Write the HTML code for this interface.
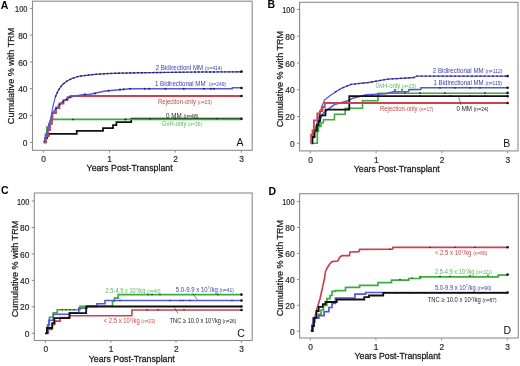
<!DOCTYPE html>
<html><head><meta charset="utf-8"><style>
html,body{margin:0;padding:0;background:#fff;width:520px;height:366px;overflow:hidden;font-family:"Liberation Sans", sans-serif;}
</style></head><body>
<svg width="520" height="366" viewBox="0 0 520 366" style="position:absolute;left:0;top:0;will-change:transform;filter:blur(0.35px)">
<rect width="520" height="366" fill="#fff"/>
<g font-family='"Liberation Sans", sans-serif'>
<rect x="32.5" y="1.2" width="219.7" height="149.1" fill="#fff" stroke="#8c8c8c" stroke-width="1.1"/>
<line x1="29.9" y1="142.3" x2="32.5" y2="142.3" stroke="#8c8c8c" stroke-width="1"/>
<text x="27.5" y="145.9" font-size="8.4" fill="#2a2a2a" text-anchor="end" font-weight="normal" stroke="#2a2a2a" stroke-width="0.2">0</text>
<line x1="29.9" y1="115.5" x2="32.5" y2="115.5" stroke="#8c8c8c" stroke-width="1"/>
<text x="27.5" y="119.1" font-size="8.4" fill="#2a2a2a" text-anchor="end" font-weight="normal" stroke="#2a2a2a" stroke-width="0.2">20</text>
<line x1="29.9" y1="88.7" x2="32.5" y2="88.7" stroke="#8c8c8c" stroke-width="1"/>
<text x="27.5" y="92.3" font-size="8.4" fill="#2a2a2a" text-anchor="end" font-weight="normal" stroke="#2a2a2a" stroke-width="0.2">40</text>
<line x1="29.9" y1="62.0" x2="32.5" y2="62.0" stroke="#8c8c8c" stroke-width="1"/>
<text x="27.5" y="65.6" font-size="8.4" fill="#2a2a2a" text-anchor="end" font-weight="normal" stroke="#2a2a2a" stroke-width="0.2">60</text>
<line x1="29.9" y1="35.2" x2="32.5" y2="35.2" stroke="#8c8c8c" stroke-width="1"/>
<text x="27.5" y="38.8" font-size="8.4" fill="#2a2a2a" text-anchor="end" font-weight="normal" stroke="#2a2a2a" stroke-width="0.2">80</text>
<line x1="29.9" y1="8.4" x2="32.5" y2="8.4" stroke="#8c8c8c" stroke-width="1"/>
<text x="27.5" y="12.0" font-size="8.4" fill="#2a2a2a" text-anchor="end" font-weight="normal" textLength="12.4" lengthAdjust="spacingAndGlyphs" stroke="#2a2a2a" stroke-width="0.2">100</text>
<line x1="43.4" y1="150.3" x2="43.4" y2="152.7" stroke="#8c8c8c" stroke-width="1"/>
<text x="43.7" y="161.9" font-size="8.4" fill="#2a2a2a" text-anchor="middle" font-weight="normal" stroke="#2a2a2a" stroke-width="0.2">0</text>
<line x1="109.4" y1="150.3" x2="109.4" y2="152.7" stroke="#8c8c8c" stroke-width="1"/>
<text x="109.7" y="161.9" font-size="8.4" fill="#2a2a2a" text-anchor="middle" font-weight="normal" stroke="#2a2a2a" stroke-width="0.2">1</text>
<line x1="175.3" y1="150.3" x2="175.3" y2="152.7" stroke="#8c8c8c" stroke-width="1"/>
<text x="175.6" y="161.9" font-size="8.4" fill="#2a2a2a" text-anchor="middle" font-weight="normal" stroke="#2a2a2a" stroke-width="0.2">2</text>
<line x1="241.3" y1="150.3" x2="241.3" y2="152.7" stroke="#8c8c8c" stroke-width="1"/>
<text x="241.6" y="161.9" font-size="8.4" fill="#2a2a2a" text-anchor="middle" font-weight="normal" stroke="#2a2a2a" stroke-width="0.2">3</text>
<text x="86.6" y="171.1" font-size="9.5" fill="#222" text-anchor="start" font-weight="normal" textLength="86.0" lengthAdjust="spacingAndGlyphs" stroke="#222" stroke-width="0.3">Years Post-Transplant</text>
<text x="0" y="0" font-size="9.6" fill="#222" stroke="#222" stroke-width="0.25" text-anchor="middle" textLength="96.5" lengthAdjust="spacingAndGlyphs" transform="translate(14.4,75.9) rotate(-90)">Cumulative % with TRM</text>
<text x="0.8" y="8.7" font-size="10.5" fill="#000" text-anchor="start" font-weight="bold" >A</text>
<text x="236.6" y="145.6" font-size="10.5" fill="#111" text-anchor="start" font-weight="normal" >A</text>
<rect x="299.6" y="2.3" width="218.4" height="148.6" fill="#fff" stroke="#8c8c8c" stroke-width="1.1"/>
<line x1="297.0" y1="143.3" x2="299.6" y2="143.3" stroke="#8c8c8c" stroke-width="1"/>
<text x="294.6" y="146.9" font-size="8.4" fill="#2a2a2a" text-anchor="end" font-weight="normal" stroke="#2a2a2a" stroke-width="0.2">0</text>
<line x1="297.0" y1="116.5" x2="299.6" y2="116.5" stroke="#8c8c8c" stroke-width="1"/>
<text x="294.6" y="120.1" font-size="8.4" fill="#2a2a2a" text-anchor="end" font-weight="normal" stroke="#2a2a2a" stroke-width="0.2">20</text>
<line x1="297.0" y1="89.7" x2="299.6" y2="89.7" stroke="#8c8c8c" stroke-width="1"/>
<text x="294.6" y="93.3" font-size="8.4" fill="#2a2a2a" text-anchor="end" font-weight="normal" stroke="#2a2a2a" stroke-width="0.2">40</text>
<line x1="297.0" y1="63.0" x2="299.6" y2="63.0" stroke="#8c8c8c" stroke-width="1"/>
<text x="294.6" y="66.6" font-size="8.4" fill="#2a2a2a" text-anchor="end" font-weight="normal" stroke="#2a2a2a" stroke-width="0.2">60</text>
<line x1="297.0" y1="36.2" x2="299.6" y2="36.2" stroke="#8c8c8c" stroke-width="1"/>
<text x="294.6" y="39.8" font-size="8.4" fill="#2a2a2a" text-anchor="end" font-weight="normal" stroke="#2a2a2a" stroke-width="0.2">80</text>
<line x1="297.0" y1="9.4" x2="299.6" y2="9.4" stroke="#8c8c8c" stroke-width="1"/>
<text x="294.6" y="13.0" font-size="8.4" fill="#2a2a2a" text-anchor="end" font-weight="normal" textLength="12.4" lengthAdjust="spacingAndGlyphs" stroke="#2a2a2a" stroke-width="0.2">100</text>
<line x1="310.3" y1="150.9" x2="310.3" y2="153.3" stroke="#8c8c8c" stroke-width="1"/>
<text x="310.6" y="162.7" font-size="8.4" fill="#2a2a2a" text-anchor="middle" font-weight="normal" stroke="#2a2a2a" stroke-width="0.2">0</text>
<line x1="376.1" y1="150.9" x2="376.1" y2="153.3" stroke="#8c8c8c" stroke-width="1"/>
<text x="376.4" y="162.7" font-size="8.4" fill="#2a2a2a" text-anchor="middle" font-weight="normal" stroke="#2a2a2a" stroke-width="0.2">1</text>
<line x1="441.8" y1="150.9" x2="441.8" y2="153.3" stroke="#8c8c8c" stroke-width="1"/>
<text x="442.1" y="162.7" font-size="8.4" fill="#2a2a2a" text-anchor="middle" font-weight="normal" stroke="#2a2a2a" stroke-width="0.2">2</text>
<line x1="507.6" y1="150.9" x2="507.6" y2="153.3" stroke="#8c8c8c" stroke-width="1"/>
<text x="507.9" y="162.7" font-size="8.4" fill="#2a2a2a" text-anchor="middle" font-weight="normal" stroke="#2a2a2a" stroke-width="0.2">3</text>
<text x="353.8" y="171.9" font-size="9.5" fill="#222" text-anchor="start" font-weight="normal" textLength="86.0" lengthAdjust="spacingAndGlyphs" stroke="#222" stroke-width="0.3">Years Post-Transplant</text>
<text x="0" y="0" font-size="9.6" fill="#222" stroke="#222" stroke-width="0.25" text-anchor="middle" textLength="96.5" lengthAdjust="spacingAndGlyphs" transform="translate(282.6,79.1) rotate(-90)">Cumulative % with TRM</text>
<text x="267.6" y="8.3" font-size="10.5" fill="#000" text-anchor="start" font-weight="bold" >B</text>
<text x="503.2" y="146.6" font-size="10.5" fill="#111" text-anchor="start" font-weight="normal" >B</text>
<rect x="34.3" y="193.0" width="217.9" height="147.5" fill="#fff" stroke="#8c8c8c" stroke-width="1.1"/>
<line x1="31.7" y1="333.3" x2="34.3" y2="333.3" stroke="#8c8c8c" stroke-width="1"/>
<text x="29.3" y="336.9" font-size="8.4" fill="#2a2a2a" text-anchor="end" font-weight="normal" stroke="#2a2a2a" stroke-width="0.2">0</text>
<line x1="31.7" y1="306.8" x2="34.3" y2="306.8" stroke="#8c8c8c" stroke-width="1"/>
<text x="29.3" y="310.4" font-size="8.4" fill="#2a2a2a" text-anchor="end" font-weight="normal" stroke="#2a2a2a" stroke-width="0.2">20</text>
<line x1="31.7" y1="280.4" x2="34.3" y2="280.4" stroke="#8c8c8c" stroke-width="1"/>
<text x="29.3" y="284.0" font-size="8.4" fill="#2a2a2a" text-anchor="end" font-weight="normal" stroke="#2a2a2a" stroke-width="0.2">40</text>
<line x1="31.7" y1="253.9" x2="34.3" y2="253.9" stroke="#8c8c8c" stroke-width="1"/>
<text x="29.3" y="257.5" font-size="8.4" fill="#2a2a2a" text-anchor="end" font-weight="normal" stroke="#2a2a2a" stroke-width="0.2">60</text>
<line x1="31.7" y1="227.5" x2="34.3" y2="227.5" stroke="#8c8c8c" stroke-width="1"/>
<text x="29.3" y="231.1" font-size="8.4" fill="#2a2a2a" text-anchor="end" font-weight="normal" stroke="#2a2a2a" stroke-width="0.2">80</text>
<line x1="31.7" y1="201.0" x2="34.3" y2="201.0" stroke="#8c8c8c" stroke-width="1"/>
<text x="29.3" y="204.6" font-size="8.4" fill="#2a2a2a" text-anchor="end" font-weight="normal" textLength="12.4" lengthAdjust="spacingAndGlyphs" stroke="#2a2a2a" stroke-width="0.2">100</text>
<line x1="45.5" y1="340.5" x2="45.5" y2="342.9" stroke="#8c8c8c" stroke-width="1"/>
<text x="45.8" y="352.4" font-size="8.4" fill="#2a2a2a" text-anchor="middle" font-weight="normal" stroke="#2a2a2a" stroke-width="0.2">0</text>
<line x1="110.8" y1="340.5" x2="110.8" y2="342.9" stroke="#8c8c8c" stroke-width="1"/>
<text x="111.1" y="352.4" font-size="8.4" fill="#2a2a2a" text-anchor="middle" font-weight="normal" stroke="#2a2a2a" stroke-width="0.2">1</text>
<line x1="176.0" y1="340.5" x2="176.0" y2="342.9" stroke="#8c8c8c" stroke-width="1"/>
<text x="176.3" y="352.4" font-size="8.4" fill="#2a2a2a" text-anchor="middle" font-weight="normal" stroke="#2a2a2a" stroke-width="0.2">2</text>
<line x1="241.3" y1="340.5" x2="241.3" y2="342.9" stroke="#8c8c8c" stroke-width="1"/>
<text x="241.6" y="352.4" font-size="8.4" fill="#2a2a2a" text-anchor="middle" font-weight="normal" stroke="#2a2a2a" stroke-width="0.2">3</text>
<text x="88.8" y="361.7" font-size="9.5" fill="#222" text-anchor="start" font-weight="normal" textLength="86.0" lengthAdjust="spacingAndGlyphs" stroke="#222" stroke-width="0.3">Years Post-Transplant</text>
<text x="0" y="0" font-size="9.6" fill="#222" stroke="#222" stroke-width="0.25" text-anchor="middle" textLength="96.5" lengthAdjust="spacingAndGlyphs" transform="translate(17.7,269.0) rotate(-90)">Cumulative % with TRM</text>
<text x="1.0" y="193.8" font-size="10.5" fill="#000" text-anchor="start" font-weight="bold" >C</text>
<text x="237.2" y="336.6" font-size="10.5" fill="#111" text-anchor="start" font-weight="normal" >C</text>
<rect x="299.6" y="193.7" width="218.7" height="144.3" fill="#fff" stroke="#8c8c8c" stroke-width="1.1"/>
<line x1="297.0" y1="331.2" x2="299.6" y2="331.2" stroke="#8c8c8c" stroke-width="1"/>
<text x="294.6" y="334.8" font-size="8.4" fill="#2a2a2a" text-anchor="end" font-weight="normal" stroke="#2a2a2a" stroke-width="0.2">0</text>
<line x1="297.0" y1="305.3" x2="299.6" y2="305.3" stroke="#8c8c8c" stroke-width="1"/>
<text x="294.6" y="308.9" font-size="8.4" fill="#2a2a2a" text-anchor="end" font-weight="normal" stroke="#2a2a2a" stroke-width="0.2">20</text>
<line x1="297.0" y1="279.4" x2="299.6" y2="279.4" stroke="#8c8c8c" stroke-width="1"/>
<text x="294.6" y="283.0" font-size="8.4" fill="#2a2a2a" text-anchor="end" font-weight="normal" stroke="#2a2a2a" stroke-width="0.2">40</text>
<line x1="297.0" y1="253.4" x2="299.6" y2="253.4" stroke="#8c8c8c" stroke-width="1"/>
<text x="294.6" y="257.0" font-size="8.4" fill="#2a2a2a" text-anchor="end" font-weight="normal" stroke="#2a2a2a" stroke-width="0.2">60</text>
<line x1="297.0" y1="227.5" x2="299.6" y2="227.5" stroke="#8c8c8c" stroke-width="1"/>
<text x="294.6" y="231.1" font-size="8.4" fill="#2a2a2a" text-anchor="end" font-weight="normal" stroke="#2a2a2a" stroke-width="0.2">80</text>
<line x1="297.0" y1="201.6" x2="299.6" y2="201.6" stroke="#8c8c8c" stroke-width="1"/>
<text x="294.6" y="205.2" font-size="8.4" fill="#2a2a2a" text-anchor="end" font-weight="normal" textLength="12.4" lengthAdjust="spacingAndGlyphs" stroke="#2a2a2a" stroke-width="0.2">100</text>
<line x1="310.3" y1="338.0" x2="310.3" y2="340.4" stroke="#8c8c8c" stroke-width="1"/>
<text x="310.6" y="350.3" font-size="8.4" fill="#2a2a2a" text-anchor="middle" font-weight="normal" stroke="#2a2a2a" stroke-width="0.2">0</text>
<line x1="375.9" y1="338.0" x2="375.9" y2="340.4" stroke="#8c8c8c" stroke-width="1"/>
<text x="376.2" y="350.3" font-size="8.4" fill="#2a2a2a" text-anchor="middle" font-weight="normal" stroke="#2a2a2a" stroke-width="0.2">1</text>
<line x1="441.6" y1="338.0" x2="441.6" y2="340.4" stroke="#8c8c8c" stroke-width="1"/>
<text x="441.9" y="350.3" font-size="8.4" fill="#2a2a2a" text-anchor="middle" font-weight="normal" stroke="#2a2a2a" stroke-width="0.2">2</text>
<line x1="507.2" y1="338.0" x2="507.2" y2="340.4" stroke="#8c8c8c" stroke-width="1"/>
<text x="507.5" y="350.3" font-size="8.4" fill="#2a2a2a" text-anchor="middle" font-weight="normal" stroke="#2a2a2a" stroke-width="0.2">3</text>
<text x="354.5" y="359.2" font-size="9.5" fill="#222" text-anchor="start" font-weight="normal" textLength="86.0" lengthAdjust="spacingAndGlyphs" stroke="#222" stroke-width="0.3">Years Post-Transplant</text>
<text x="0" y="0" font-size="9.6" fill="#222" stroke="#222" stroke-width="0.25" text-anchor="middle" textLength="96.5" lengthAdjust="spacingAndGlyphs" transform="translate(282.6,268.1) rotate(-90)">Cumulative % with TRM</text>
<text x="268.5" y="194.7" font-size="10.5" fill="#000" text-anchor="start" font-weight="bold" >D</text>
<text x="503.6" y="334.3" font-size="10.5" fill="#111" text-anchor="start" font-weight="normal" >D</text>
<path d="M43.6,142.3 H45.5 V138.0 H47.0 V136.0 H48.5 V133.8 H76.8 V130.9 H103.0 V128.2 H113.0 V125.1 H116.4 V122.1 H131.2 V118.7 H241.5 V118.7" fill="none" stroke="#111111" stroke-width="1.8" stroke-linejoin="miter" />
<path d="M43.8,142.3 H45.4 V134.0 H46.8 V127.0 H48.7 V123.5 H52.0 V119.4 H241.5 V119.4" fill="none" stroke="#3cac3c" stroke-width="1.6" stroke-linejoin="miter" />
<path d="M44.3,142.3 H46.0 V136.0 H48.0 V130.0 H50.0 V124.0 H51.5 V119.6 H52.5 V113.0 H56.0 V108.0 H59.5 V103.5 H63.5 V100.2 H67.5 V97.2 H70.5 V96.0 H241.5 V96.0" fill="none" stroke="#c9434f" stroke-width="1.8" stroke-linejoin="miter" />
<path d="M44.0,142.3 L46.0,136.0 L48.0,129.0 L50.0,122.0 L51.5,117.0 L53.0,112.5 L56.0,108.5 L59.5,104.5 L63.0,101.5 L66.6,99.2 L70.0,97.3 L74.0,96.3 L84.0,94.6 L90.0,94.2 L105.4,91.1 L125.4,89.2 L128.5,88.8 L232.3,88.8 L232.4,87.8 L241.5,87.8" fill="none" stroke="#5656d6" stroke-width="1.5" stroke-linejoin="miter" />
<path d="M44.0,142.3 L46.0,135.0 L48.0,128.0 L49.5,123.0 L50.8,118.1 L53.0,106.1 L55.3,97.1 L58.3,90.3 L62.0,85.0 L66.6,81.3 L72.6,78.3 L78.6,76.3 L84.0,75.6 L92.5,74.6 L106.0,73.6 L120.0,73.2 L150.0,72.6 L200.0,72.0 L241.5,71.8" fill="none" stroke="#5656d6" stroke-width="1.2" stroke-linejoin="miter" />
<path d="M55.3,97.1 L58.3,90.3 L62.0,85.0 L66.6,81.3 L72.6,78.3 L78.6,76.3 L84.0,75.6 L92.5,74.6 L106.0,73.6 L120.0,73.2 L150.0,72.6 L200.0,72.0 L241.5,71.8" fill="none" stroke="#24245e" stroke-width="1.4" stroke-linejoin="miter" stroke-dasharray="2.2 1.6"/>
<circle cx="241.5" cy="71.6" r="1.3" fill="#111111"/>
<circle cx="241.5" cy="88.0" r="1.3" fill="#111111"/>
<circle cx="241.5" cy="96.0" r="1.3" fill="#111111"/>
<circle cx="241.5" cy="118.7" r="1.3" fill="#111111"/>
<circle cx="56.0" cy="108.5" r="1.0" fill="#22226a"/>
<circle cx="59.5" cy="104.5" r="1.0" fill="#22226a"/>
<circle cx="63.0" cy="101.5" r="1.0" fill="#22226a"/>
<circle cx="66.6" cy="99.2" r="1.0" fill="#22226a"/>
<circle cx="70.0" cy="97.3" r="1.0" fill="#22226a"/>
<circle cx="108.5" cy="90.8" r="1.0" fill="#22226a"/>
<circle cx="120.0" cy="89.6" r="1.0" fill="#22226a"/>
<circle cx="123.8" cy="89.3" r="1.0" fill="#22226a"/>
<circle cx="130.0" cy="88.8" r="1.0" fill="#22226a"/>
<circle cx="144.6" cy="88.8" r="1.0" fill="#22226a"/>
<circle cx="149.2" cy="88.8" r="1.0" fill="#22226a"/>
<circle cx="165.4" cy="88.8" r="1.0" fill="#22226a"/>
<circle cx="183.8" cy="88.8" r="1.0" fill="#22226a"/>
<circle cx="203.8" cy="88.8" r="1.0" fill="#22226a"/>
<circle cx="210.8" cy="88.8" r="1.0" fill="#22226a"/>
<circle cx="213.8" cy="88.8" r="1.0" fill="#22226a"/>
<circle cx="85.0" cy="94.6" r="1.0" fill="#22226a"/>
<circle cx="95.0" cy="93.4" r="1.0" fill="#22226a"/>
<circle cx="125.0" cy="119.4" r="0.9" fill="#114411"/>
<circle cx="126.0" cy="119.4" r="0.9" fill="#114411"/>
<circle cx="150.0" cy="118.8" r="0.9" fill="#114411"/>
<circle cx="175.0" cy="118.7" r="0.9" fill="#114411"/>
<circle cx="217.0" cy="118.7" r="0.9" fill="#114411"/>
<circle cx="73.0" cy="119.4" r="0.9" fill="#114411"/>
<text x="155.7" y="69.8" font-size="7" fill="#3c3cac" text-anchor="start" font-weight="normal" textLength="66.5" lengthAdjust="spacingAndGlyphs" >2 Bidirectionl MM <tspan font-size="5.6">(n=414)</tspan></text>
<text x="155.0" y="85.9" font-size="7" fill="#3c3cac" text-anchor="start" font-weight="normal" textLength="71.0" lengthAdjust="spacingAndGlyphs" >1 Bidirectional MM &#160;<tspan font-size="5.6">(n=249)</tspan></text>
<text x="158.0" y="104.4" font-size="6.8" fill="#c84646" text-anchor="start" font-weight="normal" textLength="54.0" lengthAdjust="spacingAndGlyphs" >Rejection-only <tspan font-size="5.6">(n=23)</tspan></text>
<text x="166.0" y="117.8" font-size="6.8" fill="#222" text-anchor="start" font-weight="normal" textLength="32.5" lengthAdjust="spacingAndGlyphs" >0 MM <tspan font-size="5.6">(n=48)</tspan></text>
<text x="162.0" y="125.9" font-size="6.8" fill="#58b858" text-anchor="start" font-weight="normal" textLength="40.0" lengthAdjust="spacingAndGlyphs" >GvH-only <tspan font-size="5.6">(n=35)</tspan></text>
<path d="M313.2,143.3 H317.3 V131.5 H318.5 V126.4 H321.0 V122.7 H323.4 V119.8 H334.5 V114.3 H345.2 V108.3 H362.5 V100.8 H378.0 V93.2 H507.6 V93.2" fill="none" stroke="#3cac3c" stroke-width="1.6" stroke-linejoin="miter" />
<path d="M311.0,143.3 L312.5,138.0 L314.0,132.0 L316.0,126.0 L318.0,120.0 L320.0,113.0 L322.0,106.0 L324.7,99.8 L329.6,96.0 L335.0,92.2 L341.5,88.3 L351.0,84.4 L368.5,82.5 L387.7,79.2 L407.0,78.0 L414.0,77.5 L416.5,76.1 L507.6,76.1" fill="none" stroke="#5656d6" stroke-width="1.3" stroke-linejoin="miter" />
<path d="M335.0,92.2 L341.5,88.3 L351.0,84.4 L368.5,82.5 L387.7,79.2 L407.0,78.0 L414.0,77.5 L416.5,76.1 L507.6,76.1" fill="none" stroke="#2a2a70" stroke-width="1.3" stroke-linejoin="miter" stroke-dasharray="2 2.2"/>
<path d="M311.0,143.3 L313.0,137.0 L314.6,131.9 L317.0,126.0 L320.0,120.0 L322.8,114.0 L326.0,111.0 L328.9,108.7 L334.4,104.6 L340.0,102.9 L347.0,101.1 L352.7,98.3 L366.5,94.8 L386.0,93.7 L393.0,91.9 L408.5,91.5 L409.0,89.6 L420.8,89.5 L421.0,87.8 L507.6,87.8" fill="none" stroke="#5656d6" stroke-width="1.6" stroke-linejoin="miter" />
<path d="M311.5,143.3 H312.5 V137.0 H314.6 V130.5 H317.0 V125.0 H318.7 V121.0 H320.0 V115.4 H325.5 V109.6 H349.3 V96.2 H507.6 V96.2" fill="none" stroke="#111111" stroke-width="1.8" stroke-linejoin="miter" />
<path d="M310.7,143.3 H311.1 V134.6 H312.5 V130.5 H313.9 V120.3 H317.3 V113.4 H320.0 V111.0 H322.5 V107.0 H324.8 V103.0 H507.6 V103.0" fill="none" stroke="#c9434f" stroke-width="1.8" stroke-linejoin="miter" />
<circle cx="507.6" cy="76.1" r="1.3" fill="#111111"/>
<circle cx="507.6" cy="87.8" r="1.3" fill="#111111"/>
<circle cx="507.6" cy="92.9" r="1.3" fill="#111111"/>
<circle cx="507.6" cy="96.2" r="1.3" fill="#111111"/>
<circle cx="507.6" cy="103.0" r="1.3" fill="#111111"/>
<circle cx="440.0" cy="87.8" r="0.9" fill="#22226a"/>
<circle cx="455.0" cy="87.8" r="0.9" fill="#22226a"/>
<circle cx="470.0" cy="87.8" r="0.9" fill="#22226a"/>
<circle cx="480.0" cy="87.8" r="0.9" fill="#22226a"/>
<circle cx="395.0" cy="90.0" r="0.9" fill="#22226a"/>
<circle cx="402.0" cy="89.7" r="0.9" fill="#22226a"/>
<circle cx="405.0" cy="92.9" r="0.9" fill="#114411"/>
<circle cx="420.0" cy="92.9" r="0.9" fill="#114411"/>
<circle cx="445.0" cy="92.9" r="0.9" fill="#114411"/>
<circle cx="485.0" cy="92.9" r="0.9" fill="#114411"/>
<circle cx="420.0" cy="96.2" r="0.9" fill="#111111"/>
<circle cx="450.0" cy="96.2" r="0.9" fill="#111111"/>
<circle cx="470.0" cy="96.2" r="0.9" fill="#111111"/>
<circle cx="485.0" cy="96.2" r="0.9" fill="#111111"/>
<circle cx="365.0" cy="96.2" r="0.9" fill="#111111"/>
<circle cx="372.0" cy="96.2" r="0.9" fill="#111111"/>
<path d="M461,105 L458.8,97" fill="none" stroke="#333" stroke-width="0.6" stroke-linejoin="miter" />
<text x="432.8" y="72.8" font-size="7" fill="#3c3cac" text-anchor="start" font-weight="normal" textLength="69.5" lengthAdjust="spacingAndGlyphs" >2 Bidirectional MM <tspan font-size="5.6">(n=112)</tspan></text>
<text x="433.5" y="85.1" font-size="7" fill="#3c3cac" text-anchor="start" font-weight="normal" textLength="68.5" lengthAdjust="spacingAndGlyphs" >1 Bidirectional MM <tspan font-size="5.6">(n=115)</tspan></text>
<text x="375.5" y="87.8" font-size="6.8" fill="#58b858" text-anchor="start" font-weight="normal" textLength="40.5" lengthAdjust="spacingAndGlyphs" >GvH-only <tspan font-size="5.6">(n=23)</tspan></text>
<text x="380.0" y="111.0" font-size="6.8" fill="#c84646" text-anchor="start" font-weight="normal" textLength="53.5" lengthAdjust="spacingAndGlyphs" >Rejection-only <tspan font-size="5.6">(n=17)</tspan></text>
<text x="456.5" y="110.9" font-size="6.8" fill="#222" text-anchor="start" font-weight="normal" textLength="32.0" lengthAdjust="spacingAndGlyphs" >0 MM <tspan font-size="5.6">(n=24)</tspan></text>
<path d="M48.0,333.3 H48.4 V329.5 H52.0 V324.5 H54.8 V321.1 H60.2 V317.6 H69.5 V315.8 H131.9 V310.0 H241.5 V310.0" fill="none" stroke="#c9434f" stroke-width="1.6" stroke-linejoin="miter" />
<path d="M46.5,333.3 H47.5 V325.0 H49.4 V317.2 H53.3 V312.8 H57.2 V309.8 H80.0 V306.3 H112.5 V301.3 H114.4 V298.1 H118.1 V294.6 H241.5 V294.6" fill="none" stroke="#3cac3c" stroke-width="1.6" stroke-linejoin="miter" />
<path d="M47.0,333.3 H47.9 V325.6 H48.9 V320.2 H53.3 V314.3 H69.5 V312.8 H78.8 V308.1 H86.9 V306.4 H96.9 V303.8 H105.0 V300.5 H241.5 V300.5" fill="none" stroke="#5656d6" stroke-width="1.6" stroke-linejoin="miter" />
<path d="M45.0,333.3 H46.9 V328.0 H52.3 V323.1 H54.3 V318.2 H69.5 V313.2 H86.2 V306.5 H241.5 V306.5" fill="none" stroke="#111111" stroke-width="1.8" stroke-linejoin="miter" />
<circle cx="241.5" cy="294.6" r="1.3" fill="#111111"/>
<circle cx="241.5" cy="300.5" r="1.3" fill="#111111"/>
<circle cx="241.5" cy="306.5" r="1.3" fill="#111111"/>
<circle cx="241.5" cy="310.0" r="1.3" fill="#111111"/>
<circle cx="148.0" cy="294.6" r="0.8" fill="#114411"/>
<circle cx="152.0" cy="294.6" r="0.8" fill="#114411"/>
<circle cx="160.0" cy="294.6" r="0.8" fill="#114411"/>
<circle cx="218.0" cy="294.6" r="0.8" fill="#114411"/>
<circle cx="62.0" cy="309.8" r="0.8" fill="#114411"/>
<circle cx="66.0" cy="309.8" r="0.8" fill="#114411"/>
<circle cx="70.0" cy="309.8" r="0.8" fill="#114411"/>
<circle cx="74.0" cy="309.8" r="0.8" fill="#114411"/>
<circle cx="170.0" cy="300.5" r="0.8" fill="#22226a"/>
<circle cx="180.0" cy="300.5" r="0.8" fill="#22226a"/>
<circle cx="183.0" cy="300.5" r="0.8" fill="#22226a"/>
<circle cx="190.0" cy="300.5" r="0.8" fill="#22226a"/>
<circle cx="120.0" cy="300.5" r="0.8" fill="#22226a"/>
<circle cx="232.0" cy="300.5" r="0.8" fill="#22226a"/>
<circle cx="147.0" cy="309.8" r="0.8" fill="#551111"/>
<circle cx="158.0" cy="309.8" r="0.8" fill="#551111"/>
<circle cx="184.0" cy="309.8" r="0.8" fill="#551111"/>
<path d="M192.6,293.4 L197.2,299.6" fill="none" stroke="#333" stroke-width="0.6" stroke-linejoin="miter" />
<path d="M174.6,307.7 L178,313.5" fill="none" stroke="#333" stroke-width="0.6" stroke-linejoin="miter" />
<text x="105.6" y="293.1" font-size="6.6" fill="#58b858" text-anchor="start" font-weight="normal" textLength="55.0" lengthAdjust="spacingAndGlyphs" >2.5-4.9 x 10<tspan font-size="4.2" dy="-2.3">7</tspan><tspan dy="2.3">/kg </tspan><tspan font-size="5.4">(n=40)</tspan></text>
<text x="175.8" y="291.6" font-size="6.6" fill="#3c3cac" text-anchor="start" font-weight="normal" textLength="58.0" lengthAdjust="spacingAndGlyphs" >5.0-9.9 x 10<tspan font-size="4.2" dy="-2.3">7</tspan><tspan dy="2.3">/kg </tspan><tspan font-size="5.4">(n=41)</tspan></text>
<text x="103.8" y="322.9" font-size="6.6" fill="#c84646" text-anchor="start" font-weight="normal" textLength="51.5" lengthAdjust="spacingAndGlyphs" >&lt; 2.5 x 10<tspan font-size="4.2" dy="-2.3">7</tspan><tspan dy="2.3">/kg </tspan><tspan font-size="5.4">(n=23)</tspan></text>
<text x="169.5" y="323.3" font-size="6.6" fill="#222" text-anchor="start" font-weight="normal" textLength="66.8" lengthAdjust="spacingAndGlyphs" >TNC &#8805; 10.0 x 10<tspan font-size="4.2" dy="-2.3">7</tspan><tspan dy="2.3">/kg </tspan><tspan font-size="5.4">(n=26)</tspan></text>
<path d="M311.1,331.2 L313.0,325.0 L316.7,309.6 L320.0,298.7 L322.9,285.6 L324.4,279.0 L325.5,271.4 L327.7,267.0 L329.9,263.7 L332.0,261.6 L337.8,261.0 L339.8,257.1 L341.9,255.7 L349.4,255.7 L350.1,252.0 L359.0,251.6 L359.6,249.4 L392.5,249.2 L393.0,247.3 L507.6,247.3" fill="none" stroke="#c9434f" stroke-width="1.7" stroke-linejoin="miter" />
<path d="M311.5,331.2 H313.0 V322.0 H315.0 V318.0 H318.7 V314.4 H321.0 V310.0 H323.4 V305.5 H326.9 V298.7 H330.0 V295.5 H332.0 V291.4 H335.4 V290.7 H345.5 V287.4 H359.6 V285.4 H378.0 V282.7 H391.5 V280.2 H408.8 V278.5 H420.4 V276.9 H498.2 V275.2 H507.6 V275.2" fill="none" stroke="#3cac3c" stroke-width="1.7" stroke-linejoin="miter" />
<path d="M311.1,331.2 H312.0 V325.0 H313.0 V318.0 H318.7 V315.7 H324.1 V311.6 H328.9 V307.5 H332.0 V303.5 H335.4 V298.0 H354.9 V294.1 H365.7 V292.5 H507.6 V292.5" fill="none" stroke="#5656d6" stroke-width="1.7" stroke-linejoin="miter" />
<path d="M311.1,331.2 H312.5 V326.0 H314.0 V317.8 H316.5 V311.0 H318.7 V306.9 H322.8 V304.1 H325.5 V302.0 H336.7 V299.5 H364.3 V297.1 H369.0 V295.5 H383.2 V292.8 H507.6 V292.8" fill="none" stroke="#111111" stroke-width="1.8" stroke-linejoin="miter" />
<circle cx="507.6" cy="247.3" r="1.3" fill="#111111"/>
<circle cx="507.6" cy="274.6" r="1.3" fill="#111111"/>
<circle cx="507.6" cy="292.6" r="1.3" fill="#111111"/>
<circle cx="430.0" cy="247.3" r="0.8" fill="#551111"/>
<circle cx="455.0" cy="247.3" r="0.8" fill="#551111"/>
<circle cx="475.0" cy="247.3" r="0.8" fill="#551111"/>
<circle cx="390.0" cy="249.2" r="0.8" fill="#551111"/>
<circle cx="400.0" cy="279.5" r="0.8" fill="#114411"/>
<circle cx="412.0" cy="278.0" r="0.8" fill="#114411"/>
<circle cx="420.0" cy="277.0" r="0.8" fill="#114411"/>
<circle cx="440.0" cy="276.4" r="0.8" fill="#114411"/>
<circle cx="450.0" cy="276.2" r="0.8" fill="#114411"/>
<circle cx="470.0" cy="275.8" r="0.8" fill="#114411"/>
<circle cx="488.0" cy="275.3" r="0.8" fill="#114411"/>
<circle cx="385.0" cy="292.8" r="0.9" fill="#111111"/>
<circle cx="395.0" cy="292.8" r="0.9" fill="#111111"/>
<circle cx="410.0" cy="292.8" r="0.9" fill="#111111"/>
<circle cx="425.0" cy="292.8" r="0.9" fill="#111111"/>
<circle cx="440.0" cy="292.8" r="0.9" fill="#111111"/>
<circle cx="460.0" cy="292.8" r="0.9" fill="#111111"/>
<circle cx="480.0" cy="292.8" r="0.9" fill="#111111"/>
<text x="434.9" y="255.1" font-size="6.6" fill="#c84646" text-anchor="start" font-weight="normal" textLength="52.5" lengthAdjust="spacingAndGlyphs" >&lt; 2.5 x 10<tspan font-size="4.2" dy="-2.3">7</tspan><tspan dy="2.3">/kg </tspan><tspan font-size="5.4">(n=66)</tspan></text>
<text x="434.9" y="273.8" font-size="6.6" fill="#58b858" text-anchor="start" font-weight="normal" textLength="57.3" lengthAdjust="spacingAndGlyphs" >2.5-4.9 x 10<tspan font-size="4.2" dy="-2.3">7</tspan><tspan dy="2.3">/kg </tspan><tspan font-size="5.4">(n=121)</tspan></text>
<text x="434.9" y="289.7" font-size="6.6" fill="#3c3cac" text-anchor="start" font-weight="normal" textLength="56.5" lengthAdjust="spacingAndGlyphs" >5.0-9.9 x 10<tspan font-size="4.2" dy="-2.3">7</tspan><tspan dy="2.3">/kg </tspan><tspan font-size="5.4">(n=90)</tspan></text>
<text x="427.7" y="302.1" font-size="6.6" fill="#222" text-anchor="start" font-weight="normal" textLength="68.8" lengthAdjust="spacingAndGlyphs" >TNC &#8805; 10.0 x 10<tspan font-size="4.2" dy="-2.3">7</tspan><tspan dy="2.3">/kg </tspan><tspan font-size="5.4">(n=87)</tspan></text>
</g></svg>
</body></html>
